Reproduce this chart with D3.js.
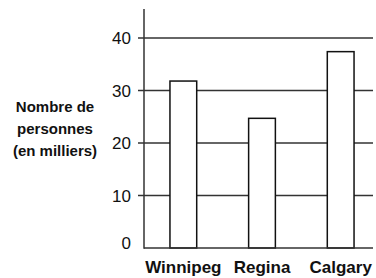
<!DOCTYPE html>
<html><head><meta charset="utf-8">
<script src="https://cdn.jsdelivr.net/npm/d3@7"></script>
<style>body{margin:0;background:#fff}svg{display:block}text{font-family:"Liberation Sans",Arial,sans-serif}</style>
</head><body>
<script>
const categories = ["Winnipeg", "Regina", "Calgary"];
const values = [31.8, 24.7, 37.4];
const tickValues = [0, 10, 20, 30, 40];
const titleLines = ["Nombre de", "personnes", "(en milliers)"];

const W = 376, H = 278;
const svg = d3.select("body").append("svg").attr("width", W).attr("height", H);

const y = d3.scaleLinear().domain([0, 40]).range([248, 38]);
const x = d3.scaleBand().domain(categories).range([144, 380]).paddingInner(0.66).paddingOuter(0.33);

// gridlines with left ticks
svg.append("g").selectAll("line").data(tickValues.filter(d => d > 0)).join("line")
  .attr("x1", 138).attr("x2", 373)
  .attr("y1", d => y(d)).attr("y2", d => y(d))
  .attr("stroke", "#333").attr("stroke-width", 1.4);

// bars
svg.append("g").selectAll("rect").data(categories).join("rect")
  .attr("x", d => x(d)).attr("width", x.bandwidth())
  .attr("y", (d, i) => y(values[i])).attr("height", (d, i) => y(0) - y(values[i]))
  .attr("fill", "#fff").attr("stroke", "#111").attr("stroke-width", 1.5);

// axes lines
svg.append("line").attr("x1", 144).attr("x2", 144).attr("y1", 9).attr("y2", 248.7)
  .attr("stroke", "#333").attr("stroke-width", 1.5);
svg.append("line").attr("x1", 144).attr("x2", 373).attr("y1", 248).attr("y2", 248)
  .attr("stroke", "#333").attr("stroke-width", 1.5);

// tick labels
svg.append("g").selectAll("text").data(tickValues).join("text")
  .attr("x", 131).attr("y", d => y(d) - (d === 0 ? 5 : 0)).attr("dy", "0.36em")
  .attr("text-anchor", "end").attr("font-size", 17).attr("fill", "#111")
  .text(d => d);

// category labels
svg.append("g").selectAll("text").data(categories).join("text")
  .attr("x", d => x(d) + x.bandwidth() / 2).attr("y", 273)
  .attr("text-anchor", "middle").attr("font-size", 17).attr("font-weight", "bold").attr("fill", "#111")
  .text(d => d);

// y title
svg.append("text").attr("font-size", 15).attr("font-weight", "bold").attr("fill", "#111")
  .attr("text-anchor", "middle")
  .selectAll("tspan").data(titleLines).join("tspan")
  .attr("x", 55).attr("y", (d, i) => 112 + i * 22)
  .text(d => d);
</script>
</body></html>
